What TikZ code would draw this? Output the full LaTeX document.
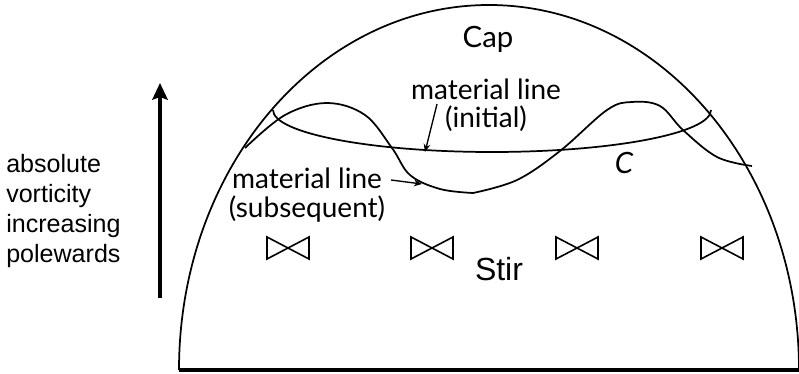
\documentclass[tikz,border=0pt]{standalone}
\usepackage{fontspec}
\newfontfamily\gillfont{Lato}
\newfontfamily\helvfont{Liberation Sans}
\usetikzlibrary{arrows.meta}
\tikzstyle{outline} = [
    line width=1.3pt,
    line join=round
]
\tikzstyle{ground} = [
    line width=2.5pt
]
\tikzstyle{stirrer} = [
    line width=1.2pt,
    line join=miter
]
\tikzstyle{gilltext} = [
    inner sep=0pt,
    align=center,
    font=\gillfont\fontsize{21}{21}\selectfont
]
\tikzstyle{helvtext} = [
    inner sep=0pt,
    align=left,
    font=\helvfont\fontsize{18.8}{22.3}\selectfont
]
\tikzstyle{pointer} = [
    -{Stealth[length=6pt, width=5pt]},
    line width=1pt
]
\tikzstyle{bigarrow} = [
    -{Stealth[length=12.5pt, width=11.5pt, inset=2pt]},
    line width=2.8pt
]

\begin{document}
\begin{tikzpicture}[x=0.75pt, y=-0.75pt]
        \useasboundingbox (0,0) rectangle (799,374);

        % Hemisphere and equator
        \draw[outline] (179,370) arc[start angle=180, end angle=360, x radius=310, y radius=365];
        \draw[ground] (179,370) -- (799,370);

        % Latitude circle C (front half)
        \draw[outline] (711,110) arc[start angle=0, end angle=180, x radius=219, y radius=42];

        % Material line after stirring
        \draw[outline] plot[smooth, tension=0.6] coordinates {(245,148) (285,115) (327,103) (365,115) (392,148) (410,175) (440,189) (473,193)};
        \draw[outline] plot[smooth, tension=0.6] coordinates {(473,193) (517,180) (560,151) (607,110) (632,102) (660,106) (683,130) (717,157) (752,166)};

        % Stirring
        \foreach \x in {288,432,577,722}
            \draw[stirrer] (\x-21,237) -- (\x-21,259) -- (\x+21,237) -- (\x+21,259) -- cycle;

        % Labels
        \node[gilltext, anchor=base, font=\gillfont\fontsize{22}{22}\selectfont] (cap) at (488,48) {Cap};
        \node[helvtext, anchor=base, font=\helvfont\fontsize{24}{24}\selectfont] (stir) at (499,280) {Stir};
        \node[gilltext, anchor=base, font=\gillfont\itshape\fontsize{22}{22}\selectfont] (circ) at (624,174) {C};
        \node[gilltext, anchor=base] (init_lbl) at (486,128) {material line\\(initial)};
        \node[gilltext, anchor=base] (subs_lbl) at (307,217) {material line\\(subsequent)};
        \node[helvtext, anchor=base west] (vort_lbl) at (6,262) {absolute\\vorticity\\increasing\\polewards};

        % Pointers
        \coordinate (init_tail) at (437,104);
        \coordinate (init_tip) at (425,152);
        \coordinate (subs_tail) at (391,180);
        \coordinate (subs_tip) at (422,184);
        \draw[pointer] (init_tail) -- (init_tip);
        \draw[pointer] (subs_tail) -- (subs_tip);

        % Poleward arrow
        \coordinate (pole_base) at (160,298);
        \coordinate (pole_tip) at (160,83);
        \draw[bigarrow] (pole_base) -- (pole_tip);
    \end{tikzpicture}
\end{document}
